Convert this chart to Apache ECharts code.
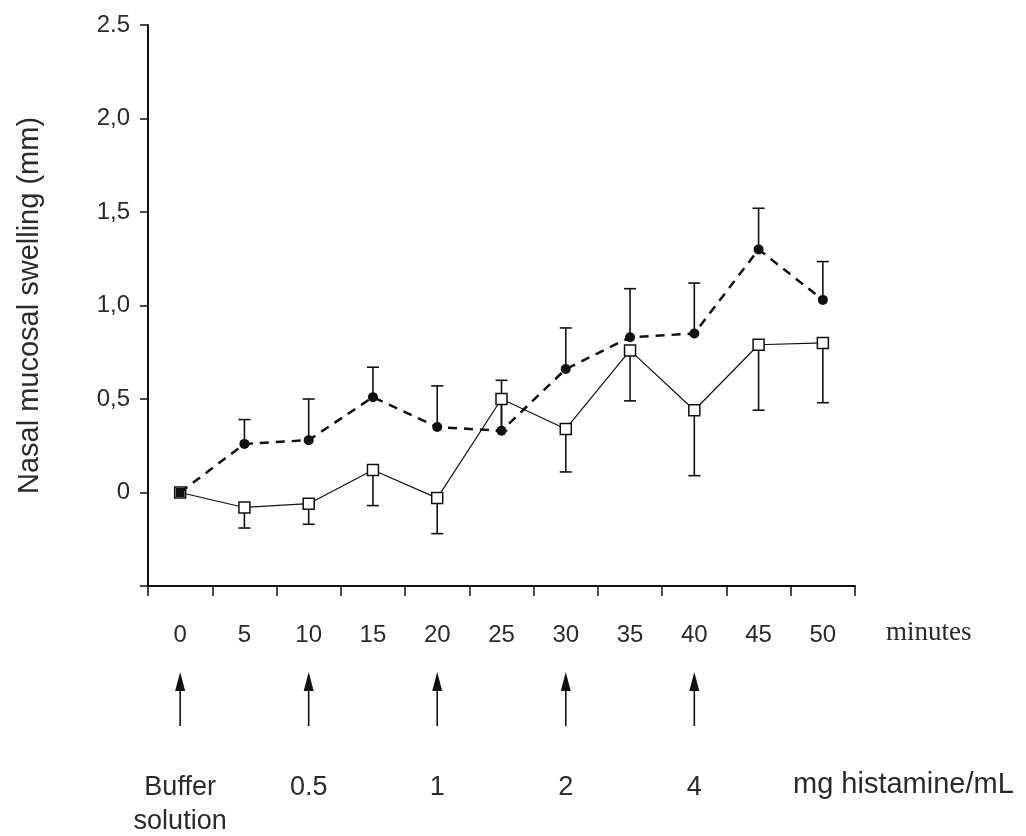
<!DOCTYPE html>
<html>
<head>
<meta charset="utf-8">
<script src="https://cdn.jsdelivr.net/npm/echarts@6/dist/echarts.min.js"></script>
<style>
html, body { margin: 0; padding: 0; background: #fff; }
#main { width: 1026px; height: 836px; }
</style>
</head>
<body>
<div id="main"></div>
<script>
// time points (minutes)
var minutes = ['0', '5', '10', '15', '20', '25', '30', '35', '40', '45', '50'];

// dashed line, filled circles (error bars upward)
var circleMean = [0, 0.26, 0.28, 0.51, 0.35, 0.33, 0.66, 0.83, 0.85, 1.30, 1.03];
var circleUpper = [null, 0.39, 0.50, 0.67, 0.57, 0.60, 0.88, 1.09, 1.12, 1.52, 1.235];

// solid line, open squares (error bars downward)
var squareMean = [0, -0.08, -0.06, 0.12, -0.03, 0.50, 0.34, 0.76, 0.44, 0.79, 0.80];
var squareLower = [null, -0.19, -0.17, -0.07, -0.22, 0.33, 0.11, 0.49, 0.09, 0.44, 0.48];

// y tick labels as printed (mixed decimal marks)
var yTickValues = [-0.5, 0, 0.5, 1, 1.5, 2, 2.5];
var yTickLabels = ['', '0', '0,5', '1,0', '1,5', '2,0', '2.5'];

// histamine challenge times and doses
var doseTimes = ['0', '10', '20', '30', '40'];
var doseLabels = ['Buffer\nsolution', '0.5', '1', '2', '4'];

var textColor = '#2b2b2b';
var ink = '#111';

var chart = echarts.init(document.getElementById('main'));

function barData(vals, ends) {
    var out = [];
    for (var i = 0; i < vals.length; i++) {
        if (ends[i] != null) out.push([i, vals[i], ends[i]]);
    }
    return out;
}

function renderErrorBar(params, api) {
    var x = api.value(0);
    var from = api.coord([x, api.value(1)]);
    var to = api.coord([x, api.value(2)]);
    var cap = 6;
    var style = { stroke: ink, lineWidth: 1.6 };
    return {
        type: 'group',
        children: [
            { type: 'line', shape: { x1: from[0], y1: from[1], x2: to[0], y2: to[1] }, style: style },
            { type: 'line', shape: { x1: to[0] - cap, y1: to[1], x2: to[0] + cap, y2: to[1] }, style: style }
        ]
    };
}

var circleData = circleMean.map(function (v, i) {
    // first point sits on top of the square, drawn as a filled square
    return i === 0 ? { value: v, symbol: 'rect', symbolSize: 9 } : v;
});

chart.setOption({
    animation: false,
    backgroundColor: '#fff',
    grid: { left: 148, right: 171, top: 25, bottom: 250 },
    xAxis: {
        type: 'category',
        data: minutes,
        boundaryGap: true,
        axisLine: { show: true, onZero: false, lineStyle: { color: ink, width: 2 } },
        axisTick: { show: true, interval: 0, length: 10, lineStyle: { color: ink, width: 1.5 } },
        axisLabel: { interval: 0, margin: 37, color: textColor, fontSize: 24, fontFamily: 'Liberation Sans' },
        splitLine: { show: false }
    },
    yAxis: {
        type: 'value',
        min: -0.5,
        max: 2.5,
        interval: 0.5,
        name: 'Nasal mucosal swelling (mm)',
        nameLocation: 'middle',
        nameGap: 104,
        nameRotate: 90,
        nameTextStyle: { color: textColor, fontSize: 29, fontFamily: 'Liberation Sans' },
        axisLine: { show: true, lineStyle: { color: ink, width: 2 } },
        axisTick: { show: true, length: 8, lineStyle: { color: ink, width: 1.5 } },
        axisLabel: {
            margin: 18,
            color: textColor,
            fontSize: 24,
            fontFamily: 'Liberation Sans',
            formatter: function (v) {
                for (var i = 0; i < yTickValues.length; i++) {
                    if (Math.abs(yTickValues[i] - v) < 1e-6) return yTickLabels[i];
                }
                return '';
            }
        },
        splitLine: { show: false }
    },
    series: [
        {
            type: 'custom',
            renderItem: renderErrorBar,
            encode: { x: 0, y: [1, 2] },
            data: barData(squareMean, squareLower),
            z: 1
        },
        {
            type: 'custom',
            renderItem: renderErrorBar,
            encode: { x: 0, y: [1, 2] },
            data: barData(circleMean, circleUpper),
            z: 1
        },
        {
            type: 'line',
            data: squareMean,
            symbol: 'rect',
            symbolSize: 11,
            lineStyle: { color: ink, width: 1.2 },
            itemStyle: { color: '#fff', borderColor: ink, borderWidth: 1.5 },
            z: 2
        },
        {
            type: 'line',
            data: circleData,
            symbol: 'circle',
            symbolSize: 10,
            lineStyle: { color: ink, width: 2.5, type: [9, 7] },
            itemStyle: { color: ink, borderWidth: 0 },
            z: 3
        }
    ]
});

// annotations under the axis: minutes label, dose arrows, dose labels
var graphics = [
    {
        type: 'text',
        left: 886,
        top: 619,
        style: { text: 'minutes', fill: textColor, font: '27px "Liberation Serif"' }
    },
    {
        type: 'text',
        left: 793,
        top: 770,
        style: { text: 'mg histamine/mL', fill: textColor, font: '29px "Liberation Sans"' }
    }
];
doseTimes.forEach(function (t, i) {
    var x = chart.convertToPixel({ xAxisIndex: 0 }, t);
    graphics.push({
        type: 'polygon',
        shape: { points: [[x, 672], [x - 5, 691], [x + 5, 691]] },
        style: { fill: ink }
    });
    graphics.push({
        type: 'line',
        shape: { x1: x, y1: 686, x2: x, y2: 726 },
        style: { stroke: ink, lineWidth: 1.6 }
    });
    graphics.push({
        type: 'text',
        x: x,
        y: 771,
        style: {
            text: doseLabels[i],
            fill: textColor,
            font: '27px "Liberation Sans"',
            align: 'center',
            verticalAlign: 'top',
            lineHeight: 34
        }
    });
});
chart.setOption({ graphic: graphics });
</script>
</body>
</html>
